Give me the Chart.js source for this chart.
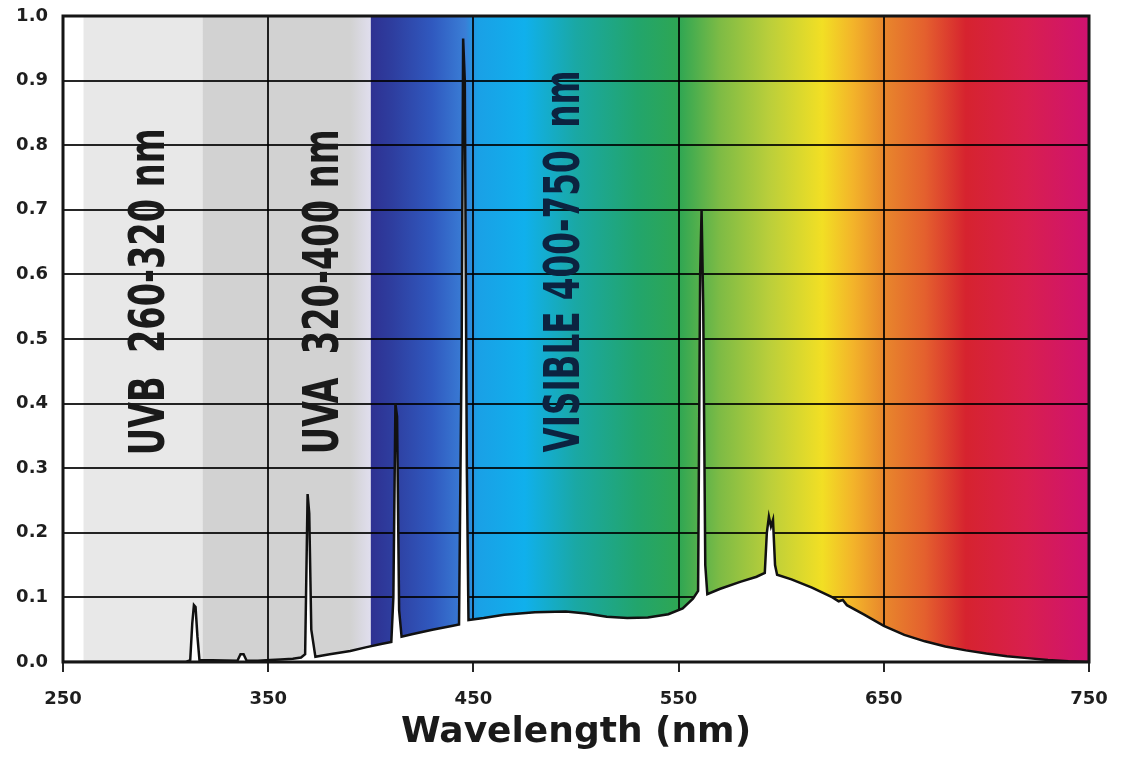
<!DOCTYPE html>
<html>
<head>
<meta charset="utf-8">
<script src="https://cdn.jsdelivr.net/npm/chart.js@4.4.1/dist/chart.umd.min.js"></script>
<style>
  html, body { margin: 0; padding: 0; background: #fff; }
  canvas { display: block; }
</style>
</head>
<body>
<canvas id="spectrumChart" width="1128" height="767"></canvas>
<script>
// spectrum (nm / relative intensity)
const wavelengths = [
  250, 310, 312, 313, 313.8, 314.6, 315.5, 316.5,
  335, 336.5, 338, 339.5, 345, 351, 356, 362, 366, 368,
  369.2, 370, 371, 373, 380, 390, 398, 405, 410,
  411, 412, 412.8, 413.8, 415, 420, 430, 440, 443,
  444.3, 445, 445.8, 446.8, 447.6, 455, 465, 480, 495, 505,
  515, 525, 535, 545, 552, 557, 559.5,
  560.5, 561.2, 562, 563, 564, 570, 580, 588, 592,
  593, 594, 595, 596, 597, 598, 605, 615, 625, 628, 630, 632,
  640, 650, 660, 670, 680, 690, 700, 710, 720, 730, 740, 750
];
const intensity = [
  0, 0, 0.003, 0.06, 0.088, 0.085, 0.04, 0.003,
  0.002, 0.012, 0.012, 0.002, 0.002, 0.003, 0.004, 0.005, 0.007, 0.012,
  0.26, 0.23, 0.05, 0.008, 0.012, 0.017, 0.023, 0.028, 0.031,
  0.1, 0.40, 0.38, 0.08, 0.039, 0.043, 0.05, 0.056, 0.058,
  0.5, 0.965, 0.9, 0.3, 0.065, 0.068, 0.073, 0.077, 0.078, 0.075,
  0.07, 0.068, 0.069, 0.074, 0.083, 0.098, 0.11,
  0.6, 0.70, 0.55, 0.15, 0.105, 0.113, 0.124, 0.132, 0.138,
  0.2, 0.225, 0.21, 0.22, 0.15, 0.135, 0.128, 0.115, 0.1, 0.094, 0.096, 0.088,
  0.074, 0.056, 0.042, 0.032, 0.024, 0.018, 0.013, 0.009, 0.006, 0.003, 0.001, 0
];

// background bands
const uvbBand = [260, 318];
const uvaBand = [318, 400];
const visibleBand = [400, 750];

// colour stops of the visible band (nm, colour)
const spectrumNm = [400, 410, 430, 446, 452, 475, 500, 530, 550, 570, 595, 620, 635, 650, 670, 690, 720, 750];
const spectrumColors = ['#2e3192', '#2e3d9e', '#3059bf', '#3a7ed6', '#1aa0e6', '#10b0ec', '#1aa8a4', '#22a56c', '#2ea653',
  '#7dbb45', '#bccf3a', '#f2df24', '#f3b42a', '#e8872c', '#e4602e', '#d6232f', '#d81f4f', '#cf1270'];

// vertical labels
const bandLabels = ['UVB  260-320 nm', 'UVA  320-400 nm', 'VISIBLE 400-750  nm'];

const backgroundPlugin = {
  id: 'bands',
  beforeDraw(chart) {
    const { ctx, chartArea: a, scales: { x } } = chart;
    ctx.save();
    ctx.fillStyle = '#ffffff';
    ctx.fillRect(a.left, a.top, a.width, a.height);

    ctx.fillStyle = '#e8e8e8';
    ctx.fillRect(x.getPixelForValue(uvbBand[0]), a.top, x.getPixelForValue(uvbBand[1]) - x.getPixelForValue(uvbBand[0]), a.height);

    const ua0 = x.getPixelForValue(uvaBand[0]), ua1 = x.getPixelForValue(uvaBand[1]);
    const g1 = ctx.createLinearGradient(ua0, 0, ua1, 0);
    g1.addColorStop(0, '#d2d2d2');
    g1.addColorStop(0.88, '#d2d2d2');
    g1.addColorStop(1, '#e0deee');
    ctx.fillStyle = g1;
    ctx.fillRect(ua0, a.top, ua1 - ua0, a.height);

    const v0 = x.getPixelForValue(visibleBand[0]), v1 = x.getPixelForValue(visibleBand[1]);
    const g2 = ctx.createLinearGradient(v0, 0, v1, 0);
    spectrumNm.forEach((nm, i) => {
      g2.addColorStop((nm - visibleBand[0]) / (visibleBand[1] - visibleBand[0]), spectrumColors[i]);
    });
    ctx.fillStyle = g2;
    ctx.fillRect(v0, a.top, v1 - v0, a.height);
    ctx.restore();
  }
};

function drawVertical(ctx, text, cx, cy, len, color) {
  ctx.save();
  ctx.font = 'bold 50px "Liberation Sans Narrow", "DejaVu Sans Condensed", sans-serif';
  const w = ctx.measureText(text).width;
  ctx.translate(cx, cy);
  ctx.rotate(-Math.PI / 2);
  ctx.scale(len / w, 1);
  ctx.fillStyle = color;
  ctx.textAlign = 'center';
  ctx.textBaseline = 'middle';
  ctx.fillText(text, 0, 2);
  ctx.restore();
}

const framePlugin = {
  id: 'frame',
  afterDatasetsDraw(chart) {
    const { ctx, chartArea: a, scales: { x, y } } = chart;
    ctx.save();
    ctx.strokeStyle = '#151515';
    ctx.lineWidth = 3;
    ctx.strokeRect(a.left, a.top, a.width, a.height);
    ctx.restore();

    drawVertical(ctx, bandLabels[0], x.getPixelForValue(292), y.getPixelForValue(0.573), 327, '#1a1a1a');
    drawVertical(ctx, bandLabels[1], x.getPixelForValue(376.5), y.getPixelForValue(0.573), 325, '#1a1a1a');
    drawVertical(ctx, bandLabels[2], x.getPixelForValue(494), y.getPixelForValue(0.62), 382, '#0c2340');
  }
};

const tickFont = { family: '"DejaVu Sans", Verdana, sans-serif', size: 18, weight: 'bold' };

new Chart(document.getElementById('spectrumChart'), {
  type: 'line',
  data: {
    datasets: [{
      data: wavelengths.map((w, i) => ({ x: w, y: intensity[i] })),
      borderColor: '#111111',
      borderWidth: 2.5,
      backgroundColor: '#ffffff',
      fill: 'origin',
      pointRadius: 0,
      tension: 0
    }]
  },
  options: {
    responsive: false,
    animation: false,
    layout: { padding: { top: 16, right: 39, left: 0, bottom: 0 } },
    plugins: {
      legend: { display: false },
      tooltip: { enabled: false }
    },
    scales: {
      x: {
        type: 'linear',
        min: 250,
        max: 750,
        afterFit(scale) { scale.height = 105; },
        ticks: { stepSize: 100, font: tickFont, color: '#1e1e1e', padding: 17, maxRotation: 0 },
        grid: { color: 'rgba(0,0,0,0.85)', lineWidth: 2, tickLength: 10, drawTicks: true },
        border: { display: false },
        title: {
          display: true,
          text: 'Wavelength (nm)',
          color: '#1a1a1a',
          font: { family: '"DejaVu Sans", Verdana, sans-serif', size: 36, weight: 'bold' },
          padding: { top: 0, bottom: 13 }
        }
      },
      y: {
        min: 0,
        max: 1,
        afterFit(scale) { scale.width = 63; scale.paddingTop = 0; scale.paddingBottom = 0; },
        ticks: { stepSize: 0.1, font: tickFont, color: '#1e1e1e', padding: 15, callback: v => v.toFixed(1) },
        grid: { color: 'rgba(0,0,0,0.85)', lineWidth: 2, drawTicks: false },
        border: { display: false }
      }
    }
  },
  plugins: [backgroundPlugin, framePlugin]
});
</script>
</body>
</html>
